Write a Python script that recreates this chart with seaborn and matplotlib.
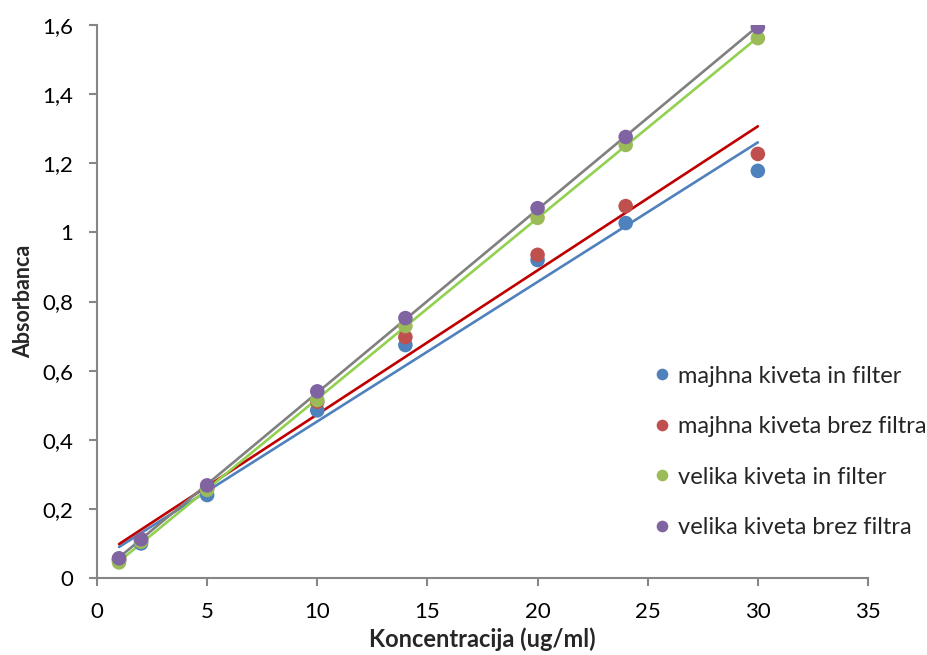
import numpy as np
import pandas as pd
import matplotlib
matplotlib.use("Agg")
import matplotlib.pyplot as plt
import seaborn as sns
from matplotlib.ticker import FuncFormatter, MultipleLocator

konc = [1, 2, 5, 10, 14, 20, 24, 30]
majhna_filter = [0.050, 0.100, 0.240, 0.485, 0.674, 0.920, 1.027, 1.178]
majhna_brez = [0.055, 0.110, 0.260, 0.510, 0.697, 0.935, 1.076, 1.227]
velika_filter = [0.045, 0.105, 0.255, 0.515, 0.729, 1.042, 1.253, 1.562]
velika_brez = [0.057, 0.112, 0.268, 0.540, 0.752, 1.070, 1.276, 1.594]

series = ["majhna kiveta in filter", "majhna kiveta brez filtra",
          "velika kiveta in filter", "velika kiveta brez filtra"]
values = [majhna_filter, majhna_brez, velika_filter, velika_brez]
marker_colors = ["#4F81BD", "#C0504D", "#9BBB59", "#8064A2"]
trend_colors = ["#4F81BD", "#C00000", "#92D050", "#808080"]

df = pd.DataFrame({
    "x": konc * 4,
    "y": sum(values, []),
    "serija": sum([[s] * len(konc) for s in series], []),
})

sns.set_style("white")
plt.rcParams["font.family"] = ["Lato", "DejaVu Sans"]

fig = plt.figure(figsize=(9.28, 6.55), dpi=100)
ax = fig.add_axes([97 / 928, 1 - 578 / 655, (868 - 97) / 928, (578 - 25) / 655])

# trendlines (linear regression)
for s, v, c in zip(series, values, trend_colors):
    sns.regplot(x=konc, y=v, ax=ax, scatter=False, ci=None, truncate=True,
                line_kws={"color": c, "lw": 1.9, "zorder": 2})

sns.scatterplot(data=df, x="x", y="y", hue="serija", palette=marker_colors,
                s=110, edgecolor="none", ax=ax, zorder=3, legend=True)

ax.set_xlim(0, 35)
ax.set_ylim(0, 1.6)
ax.xaxis.set_major_locator(MultipleLocator(5))
ax.yaxis.set_major_locator(MultipleLocator(0.2))
fmt = FuncFormatter(lambda v, p: ("%g" % round(v, 2)).replace(".", ","))
ax.xaxis.set_major_formatter(fmt)
ax.yaxis.set_major_formatter(fmt)

for sp in ["top", "right"]:
    ax.spines[sp].set_visible(False)
for sp in ["left", "bottom"]:
    ax.spines[sp].set_color("#868686")
    ax.spines[sp].set_linewidth(1.5)
ax.tick_params(axis="both", which="major", direction="out", length=6, width=1.5,
               color="#868686", labelsize=16, labelcolor="black")
ax.tick_params(axis="x", bottom=True, pad=11)
ax.tick_params(axis="y", left=True, pad=11)

ax.set_xlabel("Koncentracija (ug/ml)", fontsize=17, fontweight="bold", labelpad=4)
ax.set_ylabel("Absorbanca", fontsize=15.5, fontweight="bold", labelpad=6)

leg = ax.legend(loc="center left", bbox_to_anchor=(0.705, 0.228), frameon=False,
                fontsize=17, labelspacing=1.25, handletextpad=0.3,
                handlelength=0.8, markerscale=0.8, borderpad=0)

fig.savefig("out.png", dpi=100)
